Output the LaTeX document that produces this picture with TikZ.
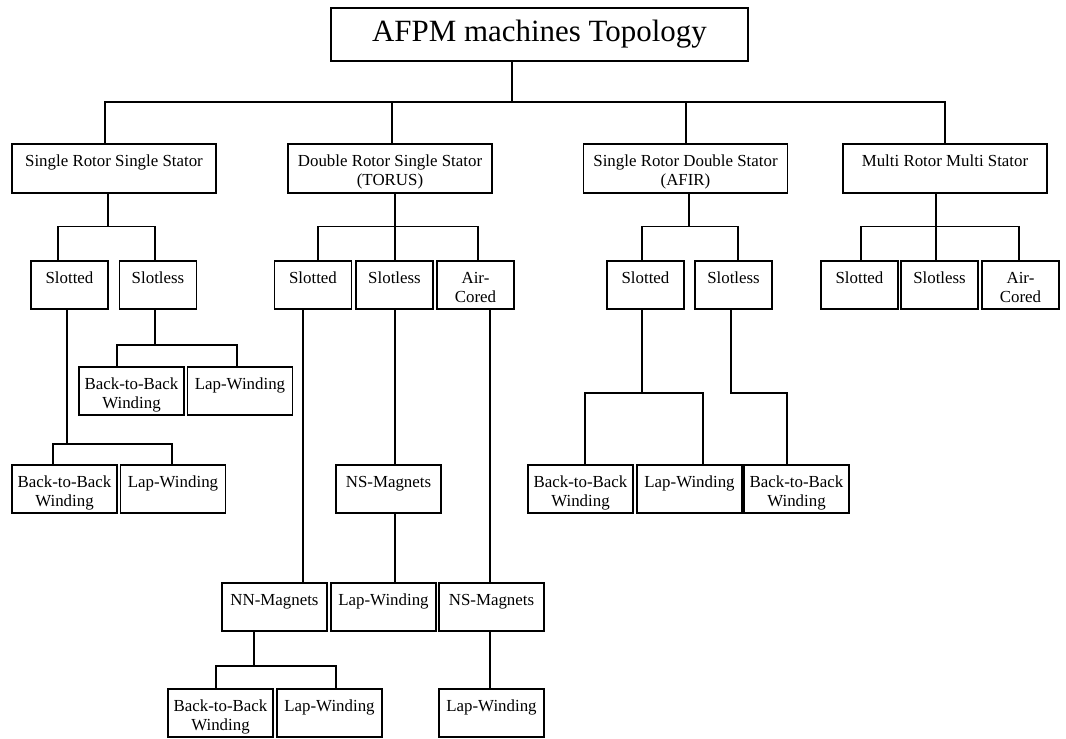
\documentclass[tikz,border=0pt]{standalone}
\usepackage{fontspec}
\setmainfont{Liberation Serif}

\newcommand{\boxtext}[1]{\begin{tabular}[t]{@{}c@{}}#1\end{tabular}}

\tikzset{
  box/.style={draw, line width=1.3pt, inner xsep=2pt, inner ysep=2pt, anchor=north,
    text height=14pt, text depth=16.1pt, font=\fontsize{12}{13.3}\selectfont},
  narrow/.style={box, minimum width=1.925cm},
  wide/.style={box, minimum width=2.625cm},
  head/.style={box, minimum width=5.1cm, text depth=16.7pt},
  title/.style={draw, line width=1.3pt, minimum width=10.425cm, minimum height=1.325cm,
    font=\fontsize{22}{26}\selectfont},
  link/.style={line width=1.2pt}
}

\begin{document}
\begin{tikzpicture}[x=0.025cm, y=-0.025cm]
      \useasboundingbox (0,0) rectangle (1066,738);

      % top and first level
      \node[title] (afpm) at (539.5,34.5) {AFPM machines Topology};
      \node[head] (srss) at (114,143) {\boxtext{Single Rotor Single Stator}};
      \node[head] (drss) at (390,143) {\boxtext{Double Rotor Single Stator\\(TORUS)}};
      \node[head] (srds) at (685.5,143) {\boxtext{Single Rotor Double Stator\\(AFIR)}};
      \node[head] (mrms) at (945,143) {\boxtext{Multi Rotor Multi Stator}};

      % second level
      \node[narrow] (srss-slotted) at (69.5,260) {\boxtext{Slotted}};
      \node[narrow] (srss-slotless) at (158,260) {\boxtext{Slotless}};
      \node[narrow] (drss-slotted) at (313,260) {\boxtext{Slotted}};
      \node[narrow] (drss-slotless) at (394.5,260) {\boxtext{Slotless}};
      \node[narrow] (drss-air) at (475.5,260) {\boxtext{Air-\\Cored}};
      \node[narrow] (srds-slotted) at (645.5,260) {\boxtext{Slotted}};
      \node[narrow] (srds-slotless) at (733.5,260) {\boxtext{Slotless}};
      \node[narrow] (mrms-slotted) at (859.5,260) {\boxtext{Slotted}};
      \node[narrow] (mrms-slotless) at (939.5,260) {\boxtext{Slotless}};
      \node[narrow] (mrms-air) at (1020.5,260) {\boxtext{Air-\\Cored}};

      % windings and magnets
      \node[wide] (srss-sl-btb) at (131.5,366) {\boxtext{Back-to-Back\\Winding}};
      \node[wide] (srss-sl-lap) at (240,366) {\boxtext{Lap-Winding}};
      \node[wide] (srss-st-btb) at (64.5,464) {\boxtext{Back-to-Back\\Winding}};
      \node[wide] (srss-st-lap) at (173,464) {\boxtext{Lap-Winding}};
      \node[wide] (drss-ns1) at (388.5,464) {\boxtext{NS-Magnets}};
      \node[wide] (srds-st-btb) at (580.5,464) {\boxtext{Back-to-Back\\Winding}};
      \node[wide] (srds-st-lap) at (689.5,464) {\boxtext{Lap-Winding}};
      \node[wide] (srds-sl-btb) at (796.5,464) {\boxtext{Back-to-Back\\Winding}};
      \node[wide] (drss-nn) at (274.5,582) {\boxtext{NN-Magnets}};
      \node[wide] (drss-ns1-lap) at (383.5,582) {\boxtext{Lap-Winding}};
      \node[wide] (drss-ns2) at (491.5,582) {\boxtext{NS-Magnets}};
      \node[wide] (drss-nn-btb) at (220.5,688) {\boxtext{Back-to-Back\\Winding}};
      \node[wide] (drss-nn-lap) at (329.5,688) {\boxtext{Lap-Winding}};
      \node[wide] (drss-ns2-lap) at (491.5,688) {\boxtext{Lap-Winding}};

      % connectors
      \foreach \n/\d in {srss/-9, drss/2, srds/0.5, mrms/0}
        \draw[link] ([shift={(-27.5,0)}]afpm.south) -- ++(0,40) -| ([shift={(\d,0)}]\n.north);

      \foreach \n/\d in {srss-slotted/-11.5, srss-slotless/-3}
        \draw[link] ([shift={(-6,0)}]srss.south) -- ++(0,33) -| ([shift={(\d,0)}]\n.north);
      \foreach \n/\d in {drss-slotted/5, drss-slotless/0.5, drss-air/2.5}
        \draw[link] ([shift={(5,0)}]drss.south) -- ++(0,33) -| ([shift={(\d,0)}]\n.north);
      \foreach \n/\d in {srds-slotted/-3.5, srds-slotless/4.5}
        \draw[link] ([shift={(3.5,0)}]srds.south) -- ++(0,33) -| ([shift={(\d,0)}]\n.north);
      \foreach \n/\d in {mrms-slotted/1.5, mrms-slotless/-3.5, mrms-air/-1.5}
        \draw[link] ([shift={(-9,0)}]mrms.south) -- ++(0,33) -| ([shift={(\d,0)}]\n.north);

      \foreach \n/\d in {srss-sl-btb/-14.5, srss-sl-lap/-3}
        \draw[link] ([shift={(-3,0)}]srss-slotless.south) -- ++(0,35) -| ([shift={(\d,0)}]\n.north);
      \foreach \n/\d in {srss-st-btb/-11.5, srss-st-lap/-1}
        \draw[link] ([shift={(-2.5,0)}]srss-slotted.south) -- ++(0,134) -| ([shift={(\d,0)}]\n.north);
      \foreach \n/\d in {srds-st-btb/4.5, srds-st-lap/13.5}
        \draw[link] ([shift={(-3.5,0)}]srds-slotted.south) -- ++(0,83) -| ([shift={(\d,0)}]\n.north);
      \draw[link] ([shift={(-2.5,0)}]srds-slotless.south) -- ++(0,83) -| ([shift={(-9.5,0)}]srds-sl-btb.north);

      \draw[link] ([shift={(-10,0)}]drss-slotted.south) -- ([shift={(28.5,0)}]drss-nn.north);
      \draw[link] ([shift={(0.5,0)}]drss-slotless.south) -- ([shift={(6.5,0)}]drss-ns1.north);
      \draw[link] ([shift={(6.5,0)}]drss-ns1.south) -- ([shift={(11.5,0)}]drss-ns1-lap.north);
      \draw[link] ([shift={(14.5,0)}]drss-air.south) -- ([shift={(-1.5,0)}]drss-ns2.north);
      \draw[link] ([shift={(-1.5,0)}]drss-ns2.south) -- ([shift={(-1.5,0)}]drss-ns2-lap.north);
      \foreach \n/\d in {drss-nn-btb/-4.5, drss-nn-lap/6.5}
        \draw[link] ([shift={(-20.5,0)}]drss-nn.south) -- ++(0,34) -| ([shift={(\d,0)}]\n.north);
    \end{tikzpicture}
\end{document}
